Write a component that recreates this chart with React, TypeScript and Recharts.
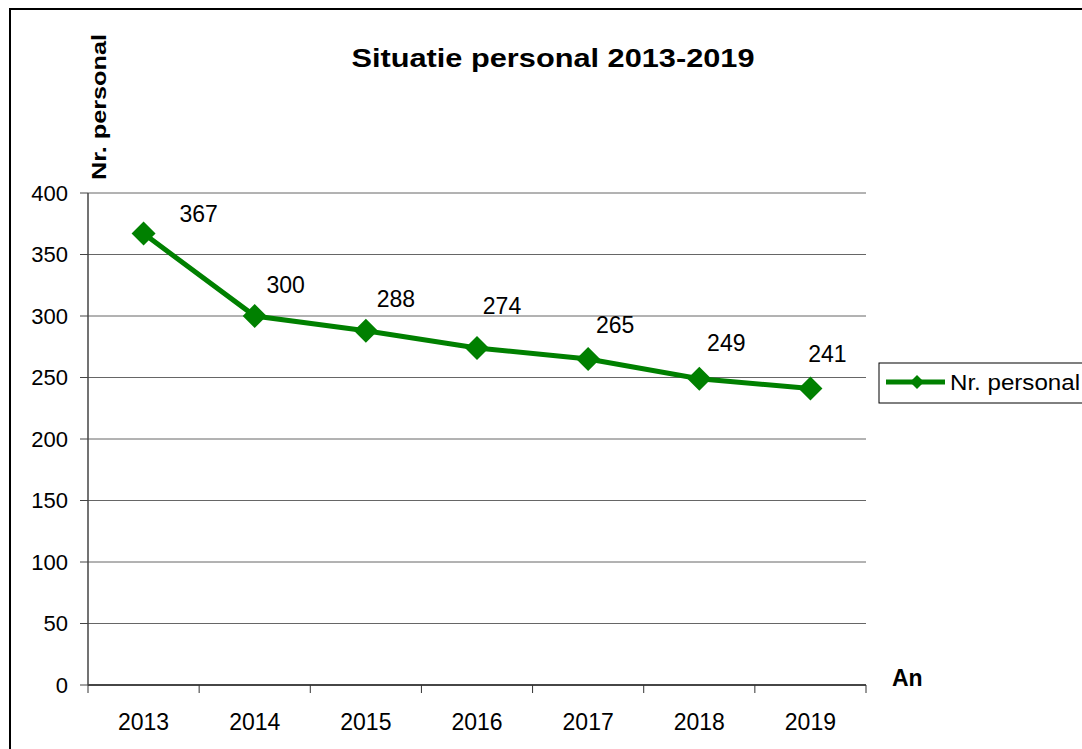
import { LineChart, Line, XAxis, YAxis, CartesianGrid, Legend, LabelList } from 'recharts'

const years = ['2013', '2014', '2015', '2016', '2017', '2018', '2019']
const staff = [367, 300, 288, 274, 265, 249, 241]
const yTicks = [0, 50, 100, 150, 200, 250, 300, 350, 400]
// nudges for the value labels, relative to each point
const labelNudge = [
  [55, -12],
  [31, -23],
  [30, -24],
  [25, -34],
  [27, -26],
  [27, -28],
  [17, -27]
]

const data = years.map((year, i) => ({ year, staff: staff[i] }))

const GREEN = '#008000'
const FONT = 'Arial, "Liberation Sans", sans-serif'
const W = 1082
const H = 749
const MARGIN = { top: 193, right: 216, bottom: 24, left: 28 }
const Y_W = 60
const PLOT_W = W - MARGIN.left - Y_W - MARGIN.right
const BAND = PLOT_W / years.length

const Diamond = ({ cx, cy, size = 12 }: any) => {
  if (cx == null || cy == null) return null
  return (
    <polygon
      points={`${cx},${cy - size} ${cx + size},${cy} ${cx},${cy + size} ${cx - size},${cy}`}
      fill={GREEN}
    />
  )
}

const YearTick = ({ x, y, payload, index }: any) => (
  <g>
    <line x1={x - BAND / 2} x2={x - BAND / 2} y1={y} y2={y + 8} stroke="#333" />
    {index === years.length - 1 && (
      <line x1={x + BAND / 2} x2={x + BAND / 2} y1={y} y2={y + 8} stroke="#333" />
    )}
    <text x={x} y={y + 45} textAnchor="middle" fontSize={23} fill="#000" fontFamily={FONT}>
      {payload.value}
    </text>
  </g>
)

const ValueLabel = ({ x, y, value, index }: any) => {
  const [dx, dy] = labelNudge[index] || [28, -28]
  return (
    <text x={x + dx} y={y + dy} textAnchor="middle" fontSize={23} fill="#000" fontFamily={FONT}>
      {value}
    </text>
  )
}

const LegendBox = () => (
  <svg width={220} height={42} style={{ display: 'block' }}>
    <rect x={1} y={1} width={230} height={40} fill="#fff" stroke="#000" strokeWidth={1} />
    <line x1={8} x2={67} y1={20} y2={20} stroke={GREEN} strokeWidth={5} />
    <Diamond cx={39} cy={20} size={7} />
    <text
      x={72}
      y={28}
      fontSize={22}
      fill="#000"
      fontFamily={FONT}
      textLength={130}
      lengthAdjust="spacingAndGlyphs"
    >
      Nr. personal
    </text>
  </svg>
)

export default function App() {
  return (
    <div
      style={{
        position: 'absolute',
        top: 0,
        left: 0,
        width: W,
        height: H,
        background: '#fff',
        overflow: 'hidden',
        fontFamily: FONT
      }}
    >
      <div
        style={{
          position: 'absolute',
          left: 9,
          top: 8,
          width: 1200,
          height: 900,
          border: '2px solid #000'
        }}
      />
      <svg width={W} height={H} style={{ position: 'absolute', left: 0, top: 0 }}>
        <text
          x={553}
          y={67}
          textAnchor="middle"
          fontSize={25}
          fontWeight="bold"
          textLength={403}
          lengthAdjust="spacingAndGlyphs"
          fontFamily={FONT}
        >
          Situatie personal 2013-2019
        </text>
        <text
          transform="translate(106, 107) rotate(-90)"
          textAnchor="middle"
          fontSize={21}
          fontWeight="bold"
          textLength={146}
          lengthAdjust="spacingAndGlyphs"
          fontFamily={FONT}
        >
          Nr. personal
        </text>
        <text x={892} y={686} fontSize={23} fontWeight="bold" fontFamily={FONT}>
          An
        </text>
      </svg>
      <div style={{ position: 'absolute', left: 0, top: 0 }}>
        <LineChart width={W} height={H} data={data} margin={MARGIN}>
          <CartesianGrid vertical={false} stroke="#666" strokeWidth={1} />
          <XAxis
            dataKey="year"
            scale="band"
            axisLine={{ stroke: '#222', strokeWidth: 1.5 }}
            tickLine={false}
            tickSize={0}
            tickMargin={0}
            height={40}
            interval={0}
            tick={<YearTick />}
          />
          <YAxis
            domain={[0, 400]}
            ticks={yTicks}
            width={Y_W}
            axisLine={{ stroke: '#444', strokeWidth: 1.5 }}
            tickLine={{ stroke: '#444' }}
            tickSize={8}
            tickMargin={12}
            tick={{ fontSize: 22, fill: '#000', fontFamily: FONT }}
          />
          <YAxis
            yAxisId="frame"
            orientation="right"
            domain={[0, 400]}
            width={0}
            tick={false}
            tickLine={false}
            axisLine={{ stroke: '#888' }}
          />
          <Legend
            layout="horizontal"
            verticalAlign="middle"
            content={<LegendBox />}
            wrapperStyle={{ position: 'absolute', left: 878, top: 362, width: 220 }}
          />
          <Line
            dataKey="staff"
            name="Nr. personal"
            stroke={GREEN}
            strokeWidth={5}
            dot={<Diamond />}
            activeDot={false}
            isAnimationActive={false}
          >
            <LabelList dataKey="staff" content={<ValueLabel />} />
          </Line>
        </LineChart>
      </div>
    </div>
  )
}
